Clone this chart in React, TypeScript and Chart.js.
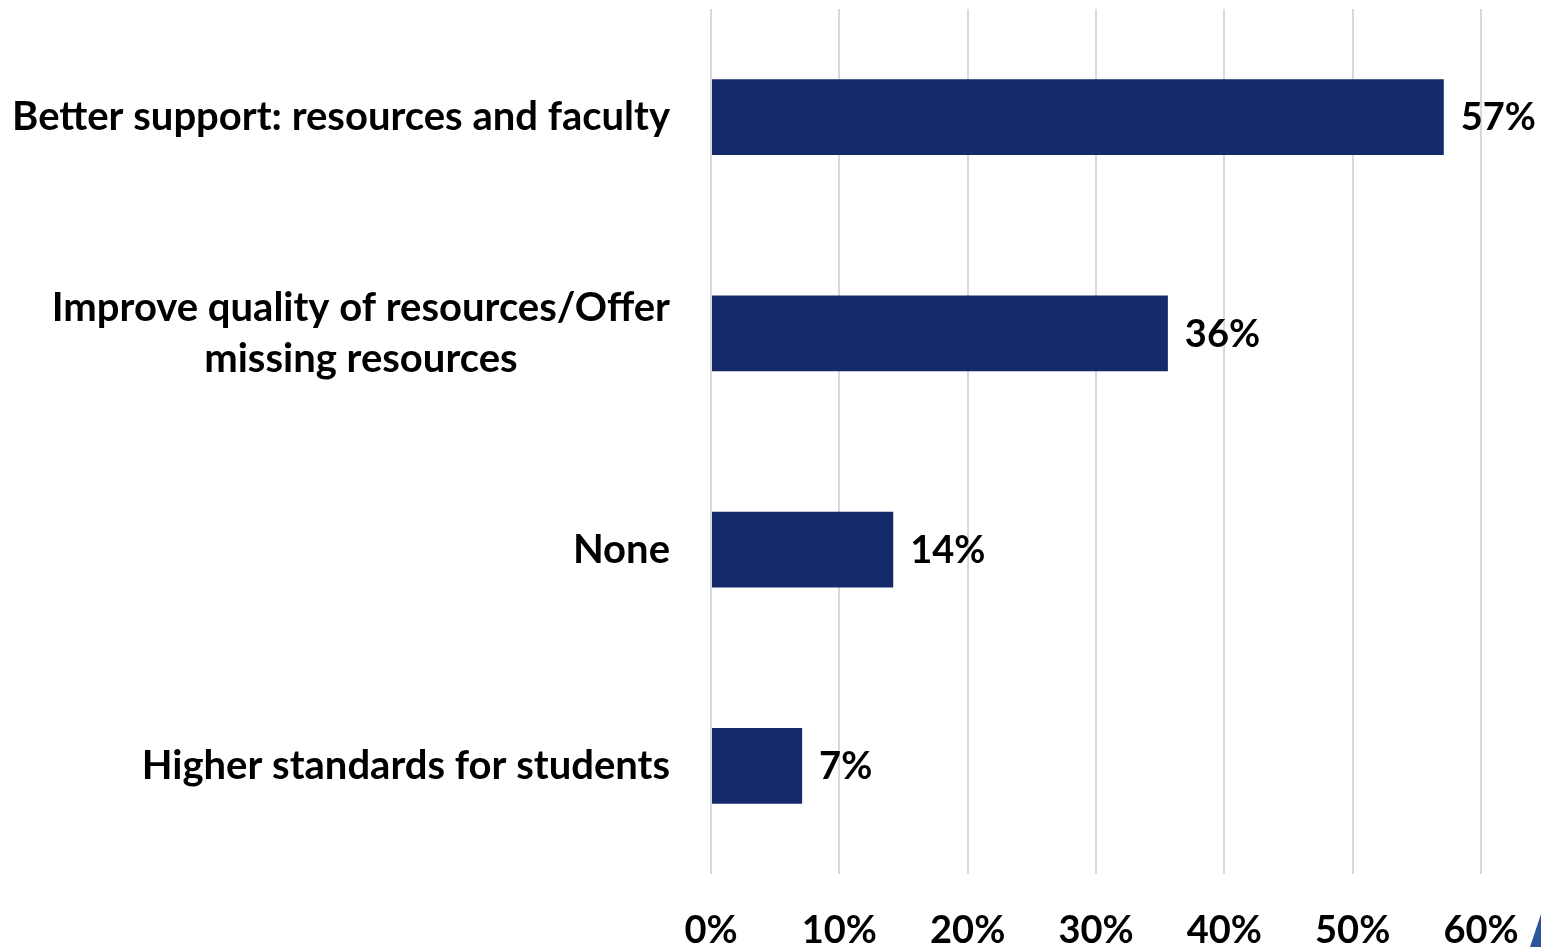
import React, { useEffect, useRef } from "react";
import { Chart, registerables } from "chart.js";

Chart.register(...registerables);

const categories: string[][] = [
  ["Better support: resources and faculty"],
  ["Improve quality of resources/Offer", "missing resources"],
  ["None"],
  ["Higher standards for students"],
];
const values: number[] = [57.1, 35.6, 14.2, 7.1];
const tickValues: number[] = [0, 10, 20, 30, 40, 50, 60];

const FONT_FAMILY = "Lato, 'Noto Sans', sans-serif";
const CAT_SIZE = 40;
const VALUE_SIZE = 38;
const BAR_COLOR = "#142A6B";

const yLabelPlugin = {
  id: "yLabels",
  afterDraw(chart: any) {
    const ctx = chart.ctx;
    const yScale = chart.scales.y;
    const rightX = chart.chartArea.left - 41;
    ctx.save();
    ctx.font = `bold ${CAT_SIZE}px ${FONT_FAMILY}`;
    ctx.fillStyle = "#000000";
    ctx.textBaseline = "middle";
    ctx.textAlign = "center";
    const lineH = 51;
    categories.forEach((lines, i) => {
      const cy = yScale.getPixelForValue(i);
      const maxW = Math.max(...lines.map((l) => ctx.measureText(l).width));
      const cx = rightX - maxW / 2;
      const startY = cy - ((lines.length - 1) * lineH) / 2;
      lines.forEach((l, j) => {
        ctx.fillText(l, cx, startY + j * lineH);
      });
    });
    ctx.restore();
  },
};

const valueLabelPlugin = {
  id: "valueLabels",
  afterDatasetsDraw(chart: any) {
    const ctx = chart.ctx;
    const meta = chart.getDatasetMeta(0);
    ctx.save();
    ctx.font = `bold ${VALUE_SIZE}px ${FONT_FAMILY}`;
    ctx.fillStyle = "#000000";
    ctx.textBaseline = "middle";
    ctx.textAlign = "left";
    meta.data.forEach((bar: any, i: number) => {
      ctx.fillText(`${Math.round(values[i])}%`, bar.x + 17, bar.y + 1);
    });
    ctx.restore();
  },
};

const cornerPlugin = {
  id: "corner",
  afterDraw(chart: any) {
    const ctx = chart.ctx;
    const w = chart.width;
    const h = chart.height;
    ctx.save();
    ctx.fillStyle = "#2E5599";
    ctx.beginPath();
    ctx.moveTo(w - 11, h);
    ctx.lineTo(w, h - 33);
    ctx.lineTo(w, h);
    ctx.closePath();
    ctx.fill();
    ctx.restore();
  },
};

export default function App() {
  const canvasRef = useRef<HTMLCanvasElement | null>(null);

  useEffect(() => {
    document.body.style.margin = "0";
    document.body.style.overflow = "hidden";
    const canvas = canvasRef.current;
    if (!canvas) return;
    const chart = new Chart(canvas, {
      type: "bar",
      data: {
        labels: categories.map((c) => c.join(" ")),
        datasets: [
          {
            data: values,
            backgroundColor: BAR_COLOR,
            borderWidth: 0,
            barPercentage: 0.35,
            categoryPercentage: 1,
          },
        ],
      },
      options: {
        indexAxis: "y",
        animation: false,
        responsive: true,
        maintainAspectRatio: false,
        layout: { padding: { top: 9, right: 60, left: 0, bottom: 0 } },
        plugins: {
          legend: { display: false },
          tooltip: { enabled: false },
        },
        scales: {
          x: {
            type: "linear",
            min: 0,
            max: 60,
            afterBuildTicks: (scale: any) => {
              scale.ticks = tickValues.map((v) => ({ value: v }));
            },
            afterFit: (scale: any) => {
              scale.height = 73;
              scale.paddingLeft = 0;
              scale.paddingRight = 0;
            },
            grid: {
              color: "#D9D9D9",
              lineWidth: 2,
              drawTicks: false,
            },
            border: { display: false },
            ticks: {
              padding: 34,
              maxRotation: 0,
              autoSkip: false,
              color: "#000000",
              font: { family: FONT_FAMILY, size: VALUE_SIZE, weight: "bold" },
              callback: (v: any) => `${v}%`,
            },
          },
          y: {
            type: "category",
            afterFit: (scale: any) => {
              scale.width = 711;
            },
            grid: { display: false },
            border: { display: false },
            ticks: { display: false },
          },
        },
      },
      plugins: [yLabelPlugin, valueLabelPlugin, cornerPlugin],
    });
    return () => chart.destroy();
  }, []);

  return (
    <div style={{ width: 1541, height: 947, position: "relative" }}>
      <canvas ref={canvasRef} />
    </div>
  );
}
